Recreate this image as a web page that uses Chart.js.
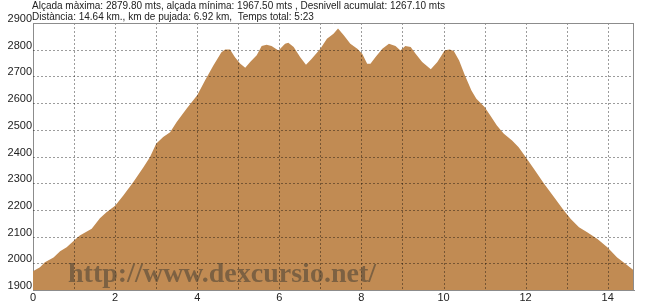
<!DOCTYPE html>
<html lang="ca">
<head>
  <meta charset="UTF-8">
  <title>Perfil</title>
  <script src="https://cdn.jsdelivr.net/npm/chart.js"></script>
  <style>
    body { margin: 0; padding: 0; background: #fff; }
    #wrap { width: 650px; height: 305px; position: relative; }
  </style>
</head>
<body>
  <div id="wrap"><canvas id="perfil"></canvas></div>

  <script>
    // distancia (km) i alçada (m) llegides del perfil
    const distancia = [
      0.00, 0.17, 0.29, 0.50, 0.66, 0.82, 1.00, 1.14, 1.43, 1.63, 1.79, 2.00,
      2.20, 2.44, 2.69, 2.85, 3.00, 3.17, 3.34, 3.50, 3.74, 4.00, 4.19, 4.39,
      4.59, 4.68, 4.80, 4.92, 5.05, 5.17, 5.29, 5.45, 5.57, 5.69, 5.81, 5.98,
      6.14, 6.22, 6.35, 6.51, 6.65, 6.79, 7.00, 7.16, 7.32, 7.43, 7.57, 7.73,
      7.90, 8.02, 8.14, 8.22, 8.34, 8.51, 8.67, 8.83, 8.95, 9.07, 9.20, 9.32,
      9.48, 9.69, 9.85, 10.03, 10.15, 10.25, 10.38, 10.52, 10.68, 10.80, 11.00,
      11.14, 11.30, 11.47, 11.67, 11.83, 12.00, 12.20, 12.45, 12.69, 12.90,
      13.10, 13.30, 13.50, 13.75, 13.99, 14.23, 14.43, 14.64
    ];
    const alcada = [
      1970, 1985, 2004, 2022, 2045, 2060, 2085, 2104, 2129, 2169, 2191, 2216,
      2254, 2304, 2360, 2398, 2448, 2473, 2491, 2529, 2579, 2629, 2685, 2740,
      2790, 2801, 2801, 2772, 2747, 2732, 2754, 2779, 2814, 2819, 2814, 2797,
      2822, 2826, 2810, 2772, 2744, 2766, 2804, 2841, 2860, 2879, 2854, 2822,
      2804, 2785, 2747, 2747, 2772, 2804, 2822, 2814, 2797, 2814, 2810, 2785,
      2754, 2727, 2754, 2798, 2801, 2795, 2760, 2704, 2647, 2616, 2585,
      2554, 2516, 2485, 2460, 2435, 2398, 2354, 2298, 2248, 2204,
      2166, 2135, 2116, 2091, 2060, 2022, 1998, 1973
    ];
    const ticksKm = [0, 1, 2, 3, 4, 5, 6, 7, 8, 9, 10, 11, 12, 13, 14];
    const capcalera = [
      'Alçada màxima: 2879.80 mts, alçada mínima: 1967.50 mts , Desnivell acumulat: 1267.10 mts',
      'Distància: 14.64 km., km de pujada: 6.92 km,  Temps total: 5:23'
    ];
    const marcaAigua = 'http://www.dexcursio.net/';

    const punts = distancia.map((d, i) => ({ x: d, y: alcada[i] }));

    // graella de punts per sobre del farciment, capçalera i marca d'aigua
    const extres = {
      id: 'extres',
      afterDatasetsDraw(chart) {
        const { ctx, chartArea: a, scales: { x, y } } = chart;
        ctx.save();
        ctx.globalCompositeOperation = 'multiply';
        ctx.strokeStyle = '#9c9c9c';
        ctx.lineWidth = 1;
        ctx.setLineDash([2, 2]);
        ctx.beginPath();
        for (let k = 1; k <= 14; k++) {
          const px = Math.round(x.getPixelForValue(k)) + 0.5;
          ctx.moveTo(px, a.top);
          ctx.lineTo(px, a.bottom);
        }
        for (let v = 2000; v <= 2800; v += 100) {
          const py = Math.round(y.getPixelForValue(v)) + 0.5;
          ctx.moveTo(a.left, py);
          ctx.lineTo(a.right, py);
        }
        ctx.stroke();
        ctx.restore();

        ctx.save();
        ctx.strokeStyle = '#8c8c8c';
        ctx.lineWidth = 1;
        ctx.beginPath();
        ctx.moveTo(a.left, Math.round(a.top) + 0.5);
        ctx.lineTo(a.right, Math.round(a.top) + 0.5);
        ctx.moveTo(Math.round(a.right) - 0.5, a.top);
        ctx.lineTo(Math.round(a.right) - 0.5, a.bottom);
        ctx.stroke();

        ctx.font = 'bold 28px "Liberation Serif"';
        ctx.fillStyle = 'rgba(80, 70, 55, 0.6)';
        ctx.textBaseline = 'alphabetic';
        ctx.fillText(marcaAigua, 68, 282);
        ctx.restore();
      },
      afterDraw(chart) {
        const ctx = chart.ctx;
        ctx.save();
        ctx.font = '10px "Liberation Sans"';
        ctx.fillStyle = '#222';
        ctx.textBaseline = 'middle';
        ctx.fillText(capcalera[0], 32, 6);
        ctx.fillText(capcalera[1], 32, 17.5);
        ctx.restore();
      }
    };

    new Chart(document.getElementById('perfil'), {
      type: 'line',
      data: {
        datasets: [{
          data: punts,
          borderWidth: 0,
          borderColor: 'rgba(0,0,0,0)',
          backgroundColor: '#c18b53',
          fill: 'start',
          pointRadius: 0,
          tension: 0
        }]
      },
      options: {
        responsive: true,
        maintainAspectRatio: false,
        animation: false,
        layout: { padding: { top: 23, right: 16, left: 0, bottom: 0 } },
        plugins: {
          legend: { display: false },
          tooltip: { enabled: false }
        },
        scales: {
          x: {
            type: 'linear',
            min: 0,
            max: 14.64,
            afterFit(s) { s.height = 15; },
            afterBuildTicks(s) { s.ticks = ticksKm.map(v => ({ value: v })); },
            grid: { display: false, drawTicks: false },
            border: { display: true, color: '#8c8c8c', width: 1 },
            ticks: {
              autoSkip: false,
              maxRotation: 0,
              padding: 1,
              color: '#222',
              font: { family: '"Liberation Sans"', size: 11 },
              callback: v => (v % 2 === 0) ? String(v) : ''
            }
          },
          y: {
            min: 1900,
            max: 2900,
            afterFit(s) { s.width = 33; },
            grid: { display: false, drawTicks: false },
            border: { display: true, color: '#8c8c8c', width: 1 },
            ticks: {
              stepSize: 100,
              padding: 1,
              labelOffset: -4,
              color: '#222',
              font: { family: '"Liberation Sans"', size: 11 },
              callback: v => String(v)
            }
          }
        }
      },
      plugins: [extres]
    });
  </script>
</body>
</html>
